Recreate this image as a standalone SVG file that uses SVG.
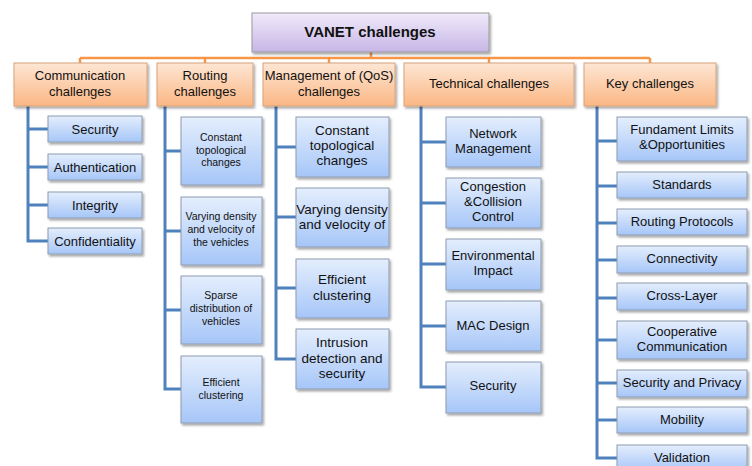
<svg xmlns="http://www.w3.org/2000/svg" width="752" height="466" viewBox="0 0 752 466">
<defs>
<linearGradient id="gRoot" x1="0" y1="0" x2="0" y2="1"><stop offset="0" stop-color="#f0eafa"/><stop offset="1" stop-color="#c7b6e6"/></linearGradient>
<linearGradient id="gOr" x1="0" y1="0" x2="0" y2="1"><stop offset="0" stop-color="#fde6d4"/><stop offset="1" stop-color="#fbb784"/></linearGradient>
<linearGradient id="gBl" x1="0" y1="0" x2="0" y2="1"><stop offset="0" stop-color="#e4eefd"/><stop offset="1" stop-color="#a6c6f8"/></linearGradient>
<filter id="sh" x="-10%" y="-10%" width="130%" height="140%"><feDropShadow dx="1.5" dy="2" stdDeviation="1.2" flood-color="#000" flood-opacity="0.35"/></filter>
</defs>
<style>
.root{fill:url(#gRoot);stroke:#9a9a9a;stroke-width:1;filter:url(#sh)}
.l1{fill:url(#gOr);stroke:#d8a27a;stroke-width:1;filter:url(#sh)}
.l2{fill:url(#gBl);stroke:#8e9cb0;stroke-width:1;filter:url(#sh)}
text{font-family:"Liberation Sans",Arial,sans-serif;fill:#111;text-anchor:middle}
.t0{font-size:15px;font-weight:bold}
.t1{font-size:13px}
.t2{font-size:13px}
.ts{font-size:10.5px}
.tm{font-size:13.5px}
.or{stroke:#f79646;stroke-width:2.5;fill:none}
.bl{stroke:#4f81bd;stroke-width:3;fill:none}
</style>
<rect width="752" height="466" fill="#fff"/>
<g id="connectors">
<path class="or" d="M371 52V58M80 58H650M80 58V63M205 58V63M329 58V63M489 58V63M650 58V63"/>
<path class="bl" d="M28 106V241H48M28 129H48M28 167H48M28 205H48"/>
<path class="bl" d="M165 106V389H181M165 151H181M165 231H181M165 310H181"/>
<path class="bl" d="M276 106V359H296M276 147H296M276 217H296M276 288H296"/>
<path class="bl" d="M421 106V387H446M421 142H446M421 203H446M421 264H446M421 326H446"/>
<path class="bl" d="M597 106V458H617M597 141H617M597 186H617M597 223H617M597 260H617M597 298H617M597 340H617M597 383H617M597 420H617"/>
</g>
<g id="root"><rect class="root" x="252" y="13" width="237" height="39"/><text class="t0" x="370" y="37">VANET challenges</text></g>
<g id="comm"><rect class="l1" x="14" y="63" width="133" height="43"/><text class="t1" x="80" y="80">Communication</text><text class="t1" x="80" y="96">challenges</text></g>
<g id="routing"><rect class="l1" x="157" y="63" width="96" height="43"/><text class="t1" x="205" y="80">Routing</text><text class="t1" x="205" y="96">challenges</text></g>
<g id="mgmt"><rect class="l1" x="263" y="63" width="132" height="43"/><text class="t1" x="329" y="80">Management of (QoS)</text><text class="t1" x="329" y="96">challenges</text></g>
<g id="tech"><rect class="l1" x="404" y="63" width="170" height="43"/><text class="t1" x="489" y="88">Technical challenges</text></g>
<g id="key"><rect class="l1" x="584" y="63" width="132" height="43"/><text class="t1" x="650" y="88">Key challenges</text></g>

<g id="c1"><rect class="l2" x="48" y="116" width="94" height="26"/><text class="t2" x="95" y="134">Security</text></g>
<g id="c2"><rect class="l2" x="48" y="154" width="94" height="26"/><text class="t2" x="95" y="172">Authentication</text></g>
<g id="c3"><rect class="l2" x="48" y="192" width="94" height="26"/><text class="t2" x="95" y="210">Integrity</text></g>
<g id="c4"><rect class="l2" x="48" y="228" width="94" height="26"/><text class="t2" x="95" y="246">Confidentiality</text></g>

<g id="r1"><rect class="l2" x="181" y="117" width="81" height="68"/><text class="ts" x="221" y="141">Constant</text><text class="ts" x="221" y="154">topological</text><text class="ts" x="221" y="166">changes</text></g>
<g id="r2"><rect class="l2" x="181" y="197" width="81" height="68"/><text class="ts" x="221" y="220">Varying  density</text><text class="ts" x="221" y="233">and velocity  of</text><text class="ts" x="221" y="246">the vehicles</text></g>
<g id="r3"><rect class="l2" x="181" y="276" width="81" height="68"/><text class="ts" x="221" y="299">Sparse</text><text class="ts" x="221" y="312">distribution of</text><text class="ts" x="221" y="325">vehicles</text></g>
<g id="r4"><rect class="l2" x="181" y="356" width="81" height="67"/><text class="ts" x="221" y="386">Efficient</text><text class="ts" x="221" y="399">clustering</text></g>

<g id="m1"><rect class="l2" x="296" y="117" width="93" height="60"/><text class="tm" x="342" y="135">Constant</text><text class="tm" x="342" y="150">topological</text><text class="tm" x="342" y="165">changes</text></g>
<g id="m2"><rect class="l2" x="296" y="188" width="93" height="59"/><text class="tm" x="342" y="214">Varying density</text><text class="tm" x="342" y="229">and velocity of</text></g>
<g id="m3"><rect class="l2" x="296" y="259" width="93" height="59"/><text class="tm" x="342" y="284">Efficient</text><text class="tm" x="342" y="300">clustering</text></g>
<g id="m4"><rect class="l2" x="296" y="329" width="93" height="60"/><text class="tm" x="342" y="347">Intrusion</text><text class="tm" x="342" y="363">detection and</text><text class="tm" x="342" y="378">security</text></g>

<g id="t1"><rect class="l2" x="446" y="117" width="95" height="50"/><text class="t2" x="493" y="138">Network</text><text class="t2" x="493" y="153">Management</text></g>
<g id="t2"><rect class="l2" x="446" y="178" width="95" height="50"/><text class="t2" x="493" y="191">Congestion</text><text class="t2" x="493" y="206">&amp;Collision</text><text class="t2" x="493" y="221">Control</text></g>
<g id="t3"><rect class="l2" x="446" y="239" width="95" height="51"/><text class="t2" x="493" y="260">Environmental</text><text class="t2" x="493" y="275">Impact</text></g>
<g id="t4"><rect class="l2" x="446" y="301" width="95" height="50"/><text class="t2" x="493" y="330">MAC Design</text></g>
<g id="t5"><rect class="l2" x="446" y="362" width="95" height="51"/><text class="t2" x="493" y="390">Security</text></g>

<g id="k1"><rect class="l2" x="617" y="117" width="130" height="44"/><text class="t2" x="682" y="134">Fundament Limits</text><text class="t2" x="682" y="149">&amp;Opportunities</text></g>
<g id="k2"><rect class="l2" x="617" y="172" width="130" height="26"/><text class="t2" x="682" y="189">Standards</text></g>
<g id="k3"><rect class="l2" x="617" y="209" width="130" height="26"/><text class="t2" x="682" y="226">Routing Protocols</text></g>
<g id="k4"><rect class="l2" x="617" y="246" width="130" height="27"/><text class="t2" x="682" y="263">Connectivity</text></g>
<g id="k5"><rect class="l2" x="617" y="283" width="130" height="27"/><text class="t2" x="682" y="300">Cross-Layer</text></g>
<g id="k6"><rect class="l2" x="617" y="321" width="130" height="38"/><text class="t2" x="682" y="336">Cooperative</text><text class="t2" x="682" y="351">Communication</text></g>
<g id="k7"><rect class="l2" x="617" y="370" width="130" height="27"/><text class="t2" x="682" y="387">Security and Privacy</text></g>
<g id="k8"><rect class="l2" x="617" y="407" width="130" height="26"/><text class="t2" x="682" y="424">Mobility</text></g>
<g id="k9"><rect class="l2" x="617" y="445" width="130" height="26"/><text class="t2" x="682" y="462">Validation</text></g>
</svg>
